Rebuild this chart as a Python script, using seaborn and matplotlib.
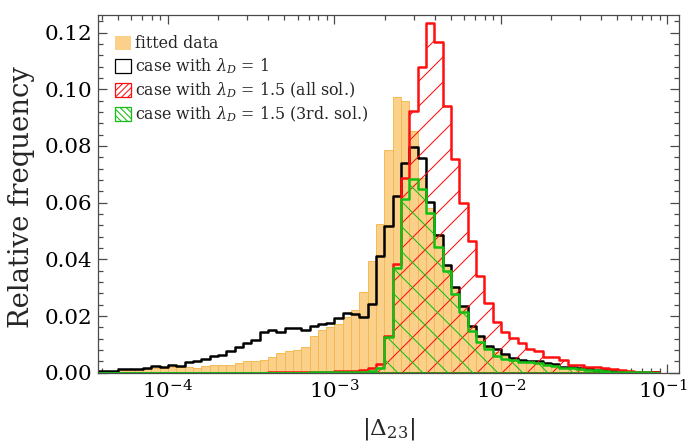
import numpy as np
import pandas as pd
import matplotlib
matplotlib.use("Agg")
import matplotlib.pyplot as plt
import matplotlib.transforms as mtransforms
import seaborn as sns
from matplotlib.patches import Patch
from matplotlib.ticker import MultipleLocator, LogLocator, FormatStrFormatter, NullFormatter

# ---- data: relative frequency per log10 bin (bin width 0.05 decades, first edge 10^-4.45)
log_first_edge = -4.45
log_bin_width = 0.05

fitted_data = [
    0.0004, 0.0005, 0.0007, 0.0010, 0.0010, 0.0012, 0.0012, 0.0016, 0.0016, 0.0019,
    0.0019, 0.0019, 0.0018, 0.0024, 0.0027, 0.0027, 0.0028, 0.0034, 0.0041, 0.0041,
    0.0045, 0.0057, 0.0069, 0.0077, 0.0080, 0.0089, 0.0128, 0.0152, 0.0162, 0.0172,
    0.0195, 0.0222, 0.0283, 0.0395, 0.0523, 0.0785, 0.0971, 0.0957, 0.0851, 0.0688,
    0.0580, 0.0490, 0.0380, 0.0300, 0.0235, 0.0160, 0.0125, 0.0090, 0.0072, 0.0060,
    0.0048, 0.0042, 0.0040, 0.0036, 0.0030, 0.0027, 0.0020, 0.0018, 0.0014, 0.0012,
    0.0009, 0.0007, 0.0005, 0.0004, 0.0003, 0.0002, 0.0001, 0.0001,
]
case_lambda1 = [
    0.0006, 0.0007, 0.0007, 0.0012, 0.0012, 0.0014, 0.0015, 0.0025, 0.0021, 0.0028,
    0.0025, 0.0039, 0.0042, 0.0050, 0.0059, 0.0062, 0.0078, 0.0089, 0.0106, 0.0116,
    0.0143, 0.0149, 0.0143, 0.0157, 0.0157, 0.0149, 0.0166, 0.0172, 0.0176, 0.0192,
    0.0209, 0.0208, 0.0197, 0.0243, 0.0410, 0.0517, 0.0623, 0.0741, 0.0797, 0.0759,
    0.0601, 0.0485, 0.0381, 0.0302, 0.0236, 0.0163, 0.0129, 0.0094, 0.0082, 0.0067,
    0.0051, 0.0045, 0.0043, 0.0040, 0.0033, 0.0030, 0.0021, 0.0021, 0.0016, 0.0016,
    0.0010, 0.0010, 0.0006, 0.0006, 0.0003, 0.0003, 0.0002, 0.0001,
]
case_lambda15_all = [
    0.0, 0.0, 0.0, 0.0, 0.0, 0.0, 0.0, 0.0, 0.0, 0.0,
    0.0, 0.0, 0.0, 0.0, 0.0, 0.0, 0.0, 0.0, 0.0, 0.0,
    0.0, 0.0001, 0.0001, 0.0002, 0.0002, 0.0002, 0.0003, 0.0003, 0.0004, 0.0005,
    0.0006, 0.0007, 0.0010, 0.0015, 0.0030, 0.0130, 0.0385, 0.0688, 0.0924, 0.1078,
    0.1234, 0.1168, 0.0942, 0.0753, 0.0597, 0.0464, 0.0340, 0.0246, 0.0180, 0.0143,
    0.0122, 0.0104, 0.0083, 0.0078, 0.0057, 0.0055, 0.0045, 0.0028, 0.0026, 0.0021,
    0.0020, 0.0016, 0.0012, 0.0010, 0.0007, 0.0004, 0.0002, 0.0001,
]
case_lambda15_3rd = [
    0.0, 0.0, 0.0, 0.0, 0.0, 0.0, 0.0, 0.0, 0.0, 0.0,
    0.0, 0.0, 0.0, 0.0, 0.0, 0.0, 0.0, 0.0, 0.0, 0.0,
    0.0, 0.0, 0.0, 0.0, 0.0, 0.0, 0.0001, 0.0001, 0.0001, 0.0001,
    0.0002, 0.0002, 0.0003, 0.0006, 0.0015, 0.0125, 0.0370, 0.0612, 0.0683, 0.0647,
    0.0565, 0.0445, 0.0360, 0.0279, 0.0215, 0.0146, 0.0110, 0.0083, 0.0060, 0.0048,
    0.0044, 0.0039, 0.0037, 0.0034, 0.0027, 0.0022, 0.0017, 0.0015, 0.0012, 0.0010,
    0.0008, 0.0006, 0.0004, 0.0003, 0.0002, 0.0001, 0.0001, 0.0,
]

legend_labels = [
    "fitted data",
    r"case with $\lambda_D$ = 1",
    r"case with $\lambda_D$ = 1.5 (all sol.)",
    r"case with $\lambda_D$ = 1.5 (3rd. sol.)",
]
x_label = r"$|\Delta_{23}|$"
y_label = "Relative frequency"

# ---- derived bin geometry (in log10 units, as seaborn bins with log_scale)
n_bins = len(fitted_data)
log_edges = [float(v) for v in log_first_edge + log_bin_width * np.arange(n_bins + 1)]
centers = 10 ** (np.array(log_edges[:-1]) + log_bin_width / 2)

df = pd.DataFrame({
    "delta": centers,
    "fitted": fitted_data,
    "l1": case_lambda1,
    "l15all": case_lambda15_all,
    "l15rd": case_lambda15_3rd,
})

# ---- style
sns.set_theme(style="ticks")
plt.rcParams["font.family"] = ["DejaVu Serif"]
plt.rcParams["mathtext.fontset"] = "dejavuserif"
plt.rcParams["hatch.linewidth"] = 0.5

DPI = 150
ORANGE = "#FAD08A"
ORANGE_EDGE = "#F5B94F"
RED = "#FF0F0F"
GREEN = "#14BF14"
FRAME = "#4a4a4a"
LW = 1.2

fig = plt.figure(figsize=(689 / DPI, 445 / DPI), dpi=DPI)
ax = fig.add_axes([98 / 689, 1 - 372.7 / 445, 581 / 689, 357.7 / 445])

sns.histplot(data=df, x="delta", weights="fitted", bins=log_edges, log_scale=True,
             element="bars", fill=True, color=ORANGE, edgecolor=ORANGE_EDGE,
             linewidth=0.45, alpha=1, ax=ax)
sns.histplot(data=df, x="delta", weights="l1", bins=log_edges, log_scale=True,
             element="step", fill=True, color="black", facecolor="none",
             edgecolor="black", linewidth=LW, ax=ax)
sns.histplot(data=df, x="delta", weights="l15all", bins=log_edges, log_scale=True,
             element="step", fill=True, color=RED, facecolor="none",
             edgecolor=RED, linewidth=LW, ax=ax)
ax.collections[-1].set_hatch("//")
sns.histplot(data=df, x="delta", weights="l15rd", bins=log_edges, log_scale=True,
             element="step", fill=True, color=GREEN, facecolor="none",
             edgecolor=GREEN, linewidth=LW, ax=ax)
ax.collections[-1].set_hatch("\\\\")

# ---- axes
ax.set_xlim(10 ** -4.4204, 10 ** -0.9309)
ax.set_ylim(0, 0.1262)
ax.xaxis.set_major_locator(LogLocator(base=10, numticks=10))
ax.xaxis.set_minor_locator(LogLocator(base=10, subs=np.arange(2, 10), numticks=20))
ax.xaxis.set_minor_formatter(NullFormatter())
ax.yaxis.set_major_locator(MultipleLocator(0.02))
ax.yaxis.set_minor_locator(MultipleLocator(0.004))
ax.yaxis.set_major_formatter(FormatStrFormatter("%.2f"))

for s in ax.spines.values():
    s.set_visible(True)
    s.set_color(FRAME)
    s.set_linewidth(0.6)
ax.tick_params(which="both", direction="in", top=True, right=True, color=FRAME,
               width=0.6, labelcolor="black")
ax.tick_params(which="major", length=4.2, labelsize=10.3)
ax.tick_params(which="minor", length=2.4)
ax.tick_params(axis="y", which="major", pad=2.6)
ax.tick_params(axis="x", which="major", pad=3.0)

ax.set_xlabel(x_label, fontsize=11.2)
ax.set_ylabel(y_label, fontsize=13.2)
ax.xaxis.set_label_coords(0.5, -0.122)
ax.xaxis.label.set_va("top")
ax.yaxis.set_label_coords(-0.108, 0.49)

handles = [
    Patch(facecolor=ORANGE, edgecolor="none", label=legend_labels[0]),
    Patch(facecolor="none", edgecolor="black", linewidth=0.6, label=legend_labels[1]),
    Patch(facecolor="none", edgecolor=RED, hatch="/" * 8, linewidth=0.6, label=legend_labels[2]),
    Patch(facecolor="none", edgecolor=GREEN, hatch="\\" * 8, linewidth=0.6, label=legend_labels[3]),
]
ax.legend(handles=handles, loc="upper left", bbox_to_anchor=(0.029, 0.944),
          frameon=False, fontsize=7.6, handlelength=1.0, handleheight=1.0,
          handletextpad=0.3, labelspacing=0.28, borderpad=0, borderaxespad=0)

# keep the last decade label inside the canvas, as in the reference
fig.canvas.draw()
for lbl in ax.get_xticklabels():
    if lbl.get_position()[0] > 0.05:
        lbl.set_ha("right")
        lbl.set_transform(lbl.get_transform() +
                          mtransforms.ScaledTranslation(20 / DPI, 0, fig.dpi_scale_trans))

fig.savefig("out.png", dpi=DPI)
